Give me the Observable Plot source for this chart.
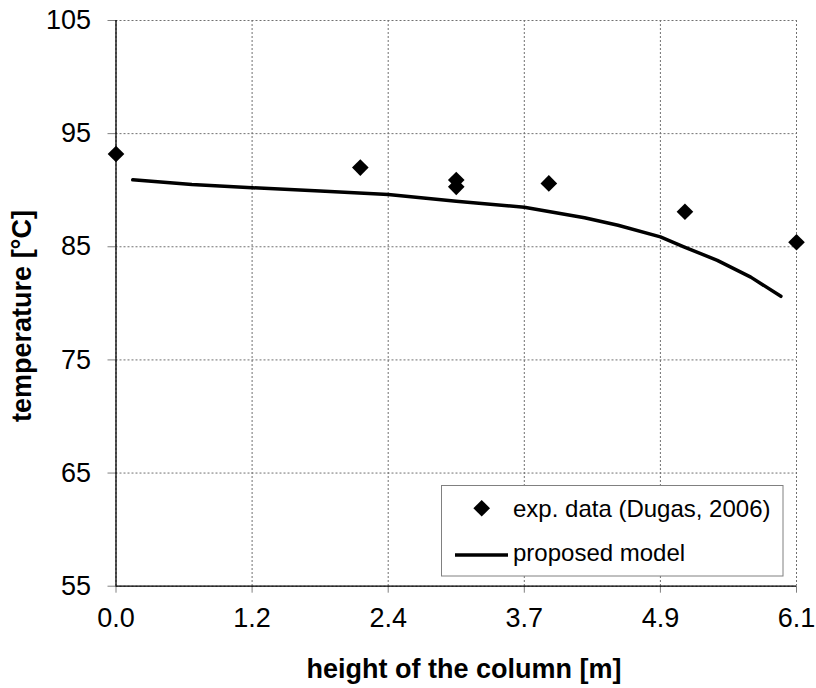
<!DOCTYPE html>
<html>
<head>
<meta charset="utf-8">
<script src="https://cdn.jsdelivr.net/npm/d3@7"></script>
<script src="https://cdn.jsdelivr.net/npm/@observablehq/plot@0.6"></script>
<style>
  html, body { margin: 0; padding: 0; background: white; }
  #chart svg g[aria-label^="x-axis"] line,
  #chart svg g[aria-label^="y-axis"] line,
  #chart svg g[aria-label^="x-axis"] path,
  #chart svg g[aria-label^="y-axis"] path { stroke: #808080; }
</style>
</head>
<body>
<div id="chart"></div>
<script>
// Experimental data (Dugas, 2006)
const expHeight = [0.0, 2.19, 3.05, 3.05, 3.88, 5.10, 6.10];
const expTemp   = [93.2, 92.0, 90.9, 90.3, 90.6, 88.1, 85.4];

// Proposed model curve
const modelHeight = [0.15, 0.68, 1.22, 1.83, 2.44, 3.05, 3.66, 4.20, 4.50, 4.88, 5.09, 5.39, 5.69, 5.96];
const modelTemp   = [90.92, 90.50, 90.22, 89.93, 89.62, 89.02, 88.50, 87.56, 86.90, 85.88, 85.00, 83.80, 82.32, 80.62];

// Axis ticks
const xTicks = [0, 1.22, 2.44, 3.66, 4.88, 6.1];
const yTicks = [55, 65, 75, 85, 95, 105];

const xLabel = "height of the column [m]";
const yLabel = "temperature [°C]";
const legendLabels = ["exp. data (Dugas, 2006)", "proposed model"];

const expData = expHeight.map((h, i) => ({h, t: expTemp[i]}));
const modelData = modelHeight.map((h, i) => ({h, t: modelTemp[i]}));

const FONT = "'Liberation Sans', Arial, Helvetica, sans-serif";

const plot = Plot.plot({
  width: 816,
  height: 688,
  marginLeft: 115.5,
  marginRight: 20,
  marginTop: 20,
  marginBottom: 102.3,
  style: {fontSize: "27px", fontFamily: FONT, background: "white", color: "black", overflow: "visible"},
  x: {domain: [0, 6.1], ticks: xTicks, tickFormat: d3.format(".1f"), tickSize: 7, tickPadding: 15, label: null},
  y: {domain: [55, 105], ticks: yTicks, tickFormat: d3.format("d"), tickSize: 8, tickPadding: 17, label: null},
  marks: [
    Plot.ruleX(xTicks, {stroke: "#707070", strokeWidth: 1, strokeDasharray: "2,2"}),
    Plot.ruleY(yTicks, {stroke: "#707070", strokeWidth: 1, strokeDasharray: "2,2"}),
    Plot.ruleX([0], {stroke: "black", strokeWidth: 1.3}),
    Plot.ruleY([55], {stroke: "black", strokeWidth: 1.3}),
    Plot.line(modelData, {x: "h", y: "t", stroke: "black", strokeWidth: 3.5}),
    Plot.dot(expData, {x: "h", y: "t", symbol: "diamond2", r: 7.5, fill: "black", stroke: "none"})
  ]
});

document.getElementById("chart").appendChild(plot);

const svg = d3.select(plot);

// Axis titles
svg.append("text")
  .attr("x", 464).attr("y", 678)
  .attr("text-anchor", "middle")
  .style("font-family", FONT).style("font-size", "27px").style("font-weight", "bold")
  .attr("fill", "black")
  .text(xLabel);

svg.append("text")
  .attr("transform", "translate(31,316) rotate(-90)")
  .attr("text-anchor", "middle")
  .style("font-family", FONT).style("font-size", "27px").style("font-weight", "bold")
  .attr("fill", "black")
  .text(yLabel);

// Legend box
const lg = svg.append("g").attr("text-anchor", "start");
lg.append("rect")
  .attr("x", 441.5).attr("y", 485.5).attr("width", 341.5).attr("height", 90.5)
  .attr("fill", "white").attr("stroke", "#808080").attr("stroke-width", 1);
lg.append("path")
  .attr("d", d3.symbol(d3.symbolDiamond2, Math.PI * 7.5 * 7.5)())
  .attr("transform", "translate(481.7,508.3)")
  .attr("fill", "black");
lg.append("line")
  .attr("x1", 455).attr("x2", 508).attr("y1", 555).attr("y2", 555)
  .attr("stroke", "black").attr("stroke-width", 3.5);
lg.append("text")
  .attr("x", 513).attr("y", 517)
  .attr("text-anchor", "start")
  .style("font-family", FONT).style("font-size", "24px")
  .attr("fill", "black")
  .text(legendLabels[0]);
lg.append("text")
  .attr("x", 513).attr("y", 561)
  .attr("text-anchor", "start")
  .style("font-family", FONT).style("font-size", "24px")
  .attr("fill", "black")
  .text(legendLabels[1]);
</script>
</body>
</html>
